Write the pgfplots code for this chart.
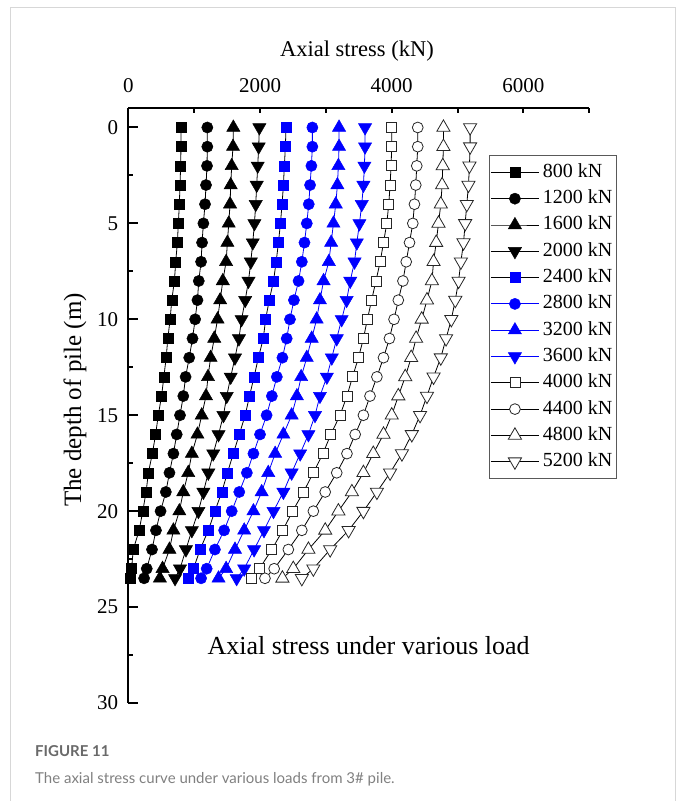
\documentclass[border=0pt]{standalone}
\usepackage{pgfplots}
\pgfplotsset{compat=1.18}
\usepackage{pgfplotstable}
\usepackage{fontspec}
\setmainfont{Liberation Serif}
\newfontfamily\capfont{Lato}
\definecolor{myblue}{RGB}{0,0,255}
\definecolor{framegray}{RGB}{215,215,215}
\definecolor{capgray}{RGB}{105,105,105}
\definecolor{captext}{RGB}{128,128,128}

\pgfplotstableread{
d    s800 s1200 s1600 s2000 s2400 s2800 s3200 s3600 s4000 s4400 s4800 s5200
0    800  1200  1595  1990  2395  2795  3200  3595  4000  4395  4785  5190
1    800  1200  1590  1980  2385  2795  3200  3595  4000  4395  4785  5190
2    795  1195  1570  1965  2370  2780  3190  3585  3990  4380  4775  5180
3    785  1180  1555  1950  2355  2760  3175  3570  3975  4365  4765  5165
4    775  1165  1545  1935  2335  2740  3150  3545  3955  4345  4745  5140
5    760  1140  1525  1915  2310  2710  3115  3510  3925  4320  4710  5115
6    745  1120  1505  1890  2280  2675  3080  3470  3875  4270  4675  5090
7    720  1105  1485  1860  2245  2635  3045  3435  3825  4220  4635  5050
8    700  1070  1435  1825  2205  2585  2965  3370  3760  4170  4610  5015
9    660  1050  1395  1775  2140  2515  2910  3315  3695  4100  4535  4965
10   635  1015  1355  1720  2085  2455  2860  3240  3630  4035  4455  4905
11   600   975  1305  1680  2050  2405  2785  3165  3570  3965  4370  4825
12   575   925  1250  1620  1975  2340  2710  3090  3495  3875  4295  4745
13   540   870  1210  1555  1910  2255  2625  3015  3405  3775  4205  4635
14   505   835  1180  1495  1840  2180  2560  2910  3320  3670  4100  4535
15   455   785  1115  1445  1775  2100  2480  2835  3215  3570  4000  4430
16   415   735  1050  1370  1685  2000  2355  2735  3075  3445  3875  4305
17   365   685   965  1290  1595  1900  2230  2610  2955  3320  3720  4155
18   305   625   910  1215  1505  1800  2125  2480  2810  3165  3570  3975
19   270   570   835  1140  1420  1685  2025  2355  2660  2990  3395  3775
20   220   490   775  1065  1315  1570  1900  2205  2495  2810  3190  3570
21   165   420   685   965  1215  1455  1760  2060  2345  2635  2990  3345
22    75   360   625   875  1090  1315  1620  1910  2180  2430  2735  3065
23    50   280   520   785   990  1190  1485  1760  1990  2215  2505  2810
23.5  25   240   480   710   910  1105  1370  1645  1875  2075  2340  2635
}\datatable

\begin{document}
\begin{tikzpicture}[x=1pt,y=1pt]
\path[use as bounding box] (0,0) rectangle (682,801);
\draw[framegray, line width=1pt] (10,-2) -- (10,793) -- (675,793) -- (675,-2);
\node[anchor=base west, font=\capfont\bfseries\fontsize{15}{18}\selectfont, text=capgray, inner sep=0pt] at (35,44) {FIGURE 11};
\node[anchor=base west, font=\capfont\fontsize{15}{18}\selectfont, text=captext, inner sep=0pt] at (35,17) {The axial stress curve under various loads from 3\# pile.};

% data axis with top x axis
\begin{axis}[
  at={(358.8pt,395.35pt)}, anchor=center,
  scale only axis, width=461pt, height=594.7pt,
  xmin=0, xmax=7000, ymin=-1, ymax=30, y dir=reverse,
  axis x line*=top, axis y line=none,
  axis line style={line width=2pt, black},
  xtick={0,1000,...,7000},
  xticklabels={0,,2000,,4000,,6000,},
  tick align=inside, major tick length=5pt,
  every tick/.style={black, line width=2pt},
  xticklabel style={anchor=base, yshift=16pt, font=\fontsize{21}{24}\selectfont},
  /pgf/number format/assume math mode=true,
  xlabel={Axial stress (kN)},
  every axis x label/.style={at={(axis description cs:0.496,1.0963)}, anchor=center, font=\fontsize{22.5}{26}\selectfont},
  clip=false,
  legend cell align=left,
  legend style={at={(axis description cs:0.7827,0.9215)}, anchor=north west,
    draw=black!65, line width=0.8pt, fill=white,
    font=\fontsize{20}{24}\selectfont,
    inner xsep=1pt, inner ysep=7pt, row sep=6.3pt,
    nodes={inner ysep=1pt, inner xsep=3.5pt, text height=14pt, text depth=4pt}},
  legend image code/.code={\draw[mark repeat=2,mark phase=2,#1] plot coordinates {(0pt,0pt) (24pt,0pt) (48pt,0pt)};},
]
\addplot[black, line width=0.8pt, mark=square*, mark size=5pt, mark options={solid, fill=black, line width=0.5pt}] table[x=s800,y=d]{\datatable};
\addlegendentry{800 kN}
\addplot[black, line width=0.8pt, mark=*, mark size=5.6pt, mark options={solid, fill=black, line width=0.5pt}] table[x=s1200,y=d]{\datatable};
\addlegendentry{1200 kN}
\addplot[black, line width=0.8pt, mark=triangle*, mark size=7.6pt, mark options={solid, fill=black, line width=0.5pt}] table[x=s1600,y=d]{\datatable};
\addlegendentry{1600 kN}
\addplot[black, line width=0.8pt, mark=triangle*, mark size=7.6pt, mark options={solid, fill=black, rotate=180, line width=0.5pt}] table[x=s2000,y=d]{\datatable};
\addlegendentry{2000 kN}
\addplot[black, line width=0.8pt, mark=square*, mark size=5pt, mark options={solid, fill=myblue, draw=myblue, line width=0.5pt}] table[x=s2400,y=d]{\datatable};
\addlegendentry{2400 kN}
\addplot[myblue, line width=0.8pt, mark=*, mark size=5.6pt, mark options={solid, fill=myblue, draw=myblue, line width=0.5pt}] table[x=s2800,y=d]{\datatable};
\addlegendentry{2800 kN}
\addplot[myblue, line width=0.8pt, mark=triangle*, mark size=7.6pt, mark options={solid, fill=myblue, draw=myblue, line width=0.5pt}] table[x=s3200,y=d]{\datatable};
\addlegendentry{3200 kN}
\addplot[myblue, line width=0.8pt, mark=triangle*, mark size=7.6pt, mark options={solid, fill=myblue, draw=myblue, rotate=180, line width=0.5pt}] table[x=s3600,y=d]{\datatable};
\addlegendentry{3600 kN}
\addplot[black, line width=0.8pt, mark=square*, mark size=5pt, mark options={solid, fill=white, draw=black!85, line width=0.8pt}] table[x=s4000,y=d]{\datatable};
\addlegendentry{4000 kN}
\addplot[black, line width=0.8pt, mark=*, mark size=5.4pt, mark options={solid, fill=white, draw=black!85, line width=0.8pt}] table[x=s4400,y=d]{\datatable};
\addlegendentry{4400 kN}
\addplot[black, line width=0.8pt, mark=triangle*, mark size=7.6pt, mark options={solid, fill=white, draw=black!85, line width=0.8pt}] table[x=s4800,y=d]{\datatable};
\addlegendentry{4800 kN}
\addplot[black, line width=0.8pt, mark=triangle*, mark size=7.6pt, mark options={solid, fill=white, draw=black!85, rotate=180, line width=0.8pt}] table[x=s5200,y=d]{\datatable};
\addlegendentry{5200 kN}
\node[font=\fontsize{26}{30}\selectfont] at (axis cs:3650,27) {Axial stress under various load};
\end{axis}

% y axis (left) with its own tick lengths
\begin{axis}[
  at={(358.8pt,395.35pt)}, anchor=center,
  scale only axis, width=461pt, height=594.7pt,
  xmin=0, xmax=7000, ymin=-1, ymax=30, y dir=reverse,
  axis x line=none, axis y line*=left,
  axis line style={line width=2pt, black},
  ytick={0,5,...,30}, minor y tick num=1,
  tick align=inside, major tick length=10pt, minor tick length=5pt,
  every tick/.style={black, line width=2pt},
  /pgf/number format/assume math mode=true,
  yticklabel style={anchor=east, inner sep=0pt, xshift=-10pt, font=\fontsize{21}{24}\selectfont},
  ylabel={The depth of pile (m)},
  every axis y label/.style={at={(axis description cs:-0.1156,0.5095)}, anchor=center, rotate=90, font=\fontsize{25}{28}\selectfont},
]
\end{axis}
\end{tikzpicture}
\end{document}
